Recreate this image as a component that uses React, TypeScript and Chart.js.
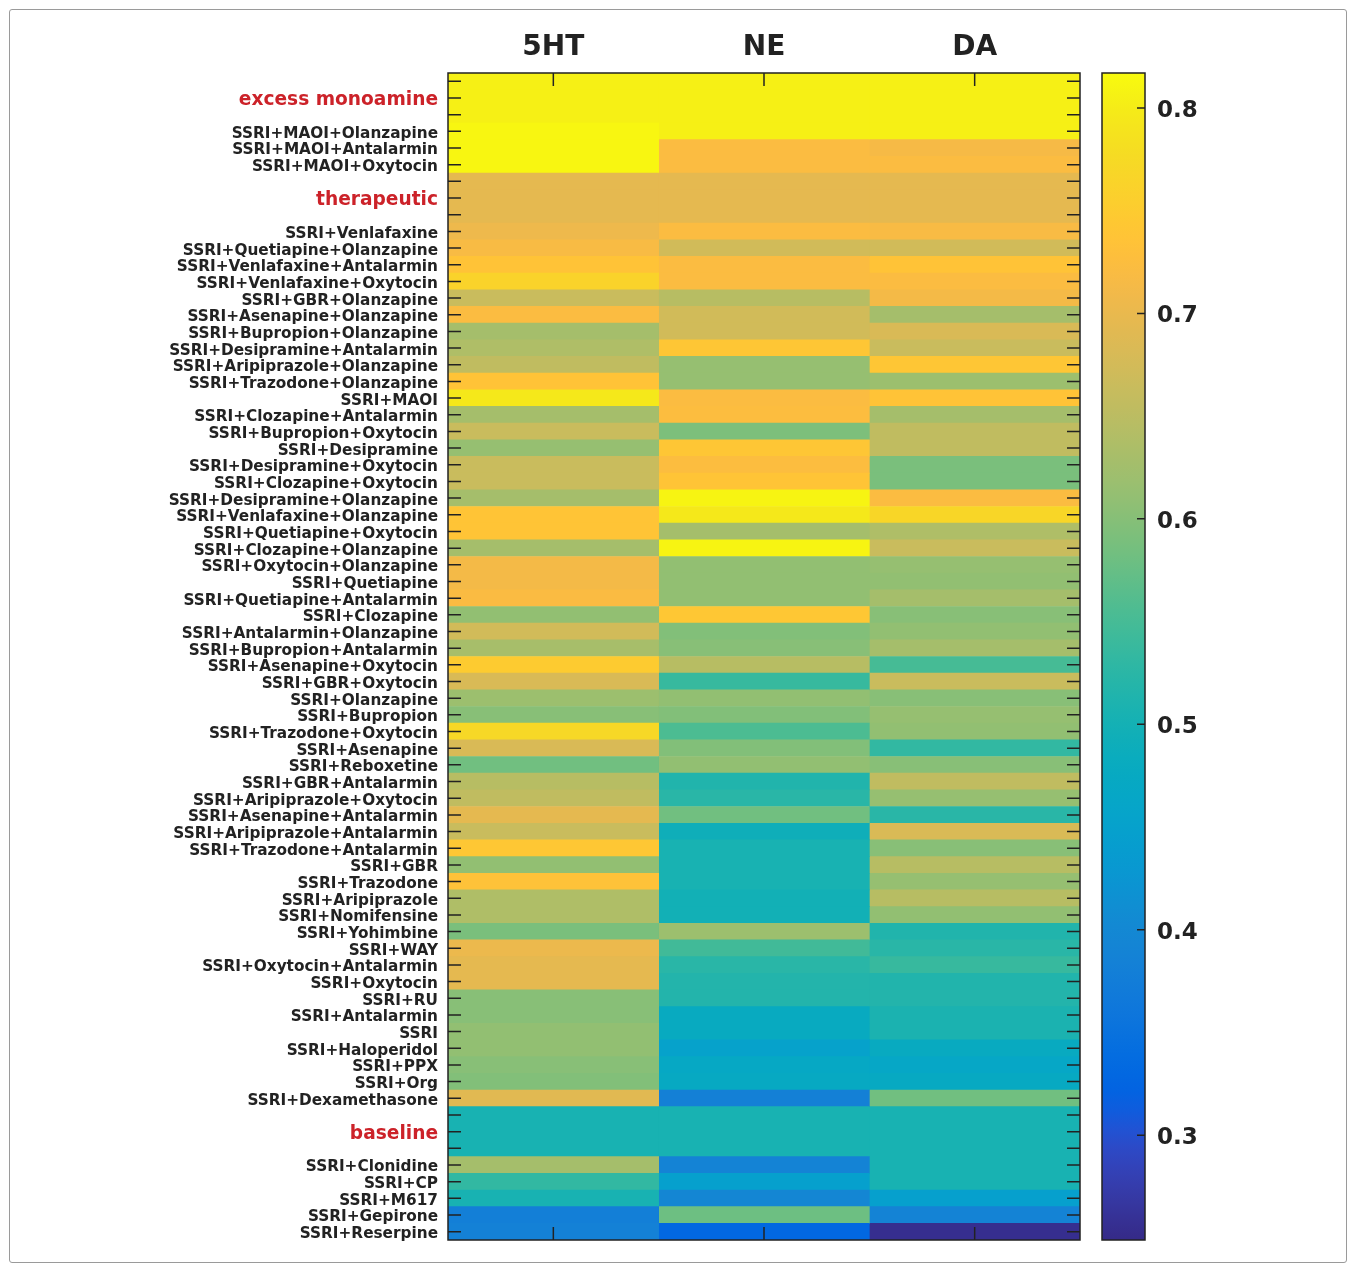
import { useEffect, useRef } from 'react';
import { Chart, registerables } from 'chart.js';

Chart.register(...registerables);

const columns = ['5HT', 'NE', 'DA'];

const groupLabels = ['excess monoamine', 'therapeutic', 'baseline'];

const rowLabels = [
  '', 'excess monoamine', '',
  'SSRI+MAOI+Olanzapine', 'SSRI+MAOI+Antalarmin', 'SSRI+MAOI+Oxytocin',
  '', 'therapeutic', '',
  'SSRI+Venlafaxine', 'SSRI+Quetiapine+Olanzapine', 'SSRI+Venlafaxine+Antalarmin',
  'SSRI+Venlafaxine+Oxytocin', 'SSRI+GBR+Olanzapine', 'SSRI+Asenapine+Olanzapine',
  'SSRI+Bupropion+Olanzapine', 'SSRI+Desipramine+Antalarmin', 'SSRI+Aripiprazole+Olanzapine',
  'SSRI+Trazodone+Olanzapine', 'SSRI+MAOI', 'SSRI+Clozapine+Antalarmin',
  'SSRI+Bupropion+Oxytocin', 'SSRI+Desipramine', 'SSRI+Desipramine+Oxytocin',
  'SSRI+Clozapine+Oxytocin', 'SSRI+Desipramine+Olanzapine', 'SSRI+Venlafaxine+Olanzapine',
  'SSRI+Quetiapine+Oxytocin', 'SSRI+Clozapine+Olanzapine', 'SSRI+Oxytocin+Olanzapine',
  'SSRI+Quetiapine', 'SSRI+Quetiapine+Antalarmin', 'SSRI+Clozapine',
  'SSRI+Antalarmin+Olanzapine', 'SSRI+Bupropion+Antalarmin', 'SSRI+Asenapine+Oxytocin',
  'SSRI+GBR+Oxytocin', 'SSRI+Olanzapine', 'SSRI+Bupropion',
  'SSRI+Trazodone+Oxytocin', 'SSRI+Asenapine', 'SSRI+Reboxetine',
  'SSRI+GBR+Antalarmin', 'SSRI+Aripiprazole+Oxytocin', 'SSRI+Asenapine+Antalarmin',
  'SSRI+Aripiprazole+Antalarmin', 'SSRI+Trazodone+Antalarmin', 'SSRI+GBR',
  'SSRI+Trazodone', 'SSRI+Aripiprazole', 'SSRI+Nomifensine',
  'SSRI+Yohimbine', 'SSRI+WAY', 'SSRI+Oxytocin+Antalarmin',
  'SSRI+Oxytocin', 'SSRI+RU', 'SSRI+Antalarmin',
  'SSRI', 'SSRI+Haloperidol', 'SSRI+PPX',
  'SSRI+Org', 'SSRI+Dexamethasone',
  '', 'baseline', '',
  'SSRI+Clonidine', 'SSRI+CP', 'SSRI+M617', 'SSRI+Gepirone', 'SSRI+Reserpine',
];

const values5HT = [
  0.805, 0.805, 0.805,
  0.812, 0.812, 0.812,
  0.695, 0.695, 0.695,
  0.705, 0.718, 0.736, 0.763, 0.664, 0.722, 0.628, 0.637, 0.655, 0.736,
  0.795, 0.628, 0.664, 0.614, 0.664, 0.664, 0.628, 0.738, 0.738, 0.628,
  0.713, 0.713, 0.72, 0.61, 0.673, 0.63, 0.75, 0.682, 0.619, 0.601,
  0.772, 0.682, 0.583, 0.646, 0.655, 0.695, 0.664, 0.742, 0.61, 0.733,
  0.637, 0.637, 0.59, 0.703, 0.695, 0.695, 0.601, 0.601, 0.61, 0.61,
  0.601, 0.596, 0.691,
  0.505, 0.505, 0.505,
  0.628, 0.532, 0.505, 0.38, 0.385,
];

const valuesNE = [
  0.805, 0.805, 0.805,
  0.805, 0.722, 0.722,
  0.695, 0.695, 0.695,
  0.722, 0.673, 0.722, 0.722, 0.646, 0.673, 0.673, 0.74, 0.614, 0.614,
  0.722, 0.725, 0.592, 0.74, 0.725, 0.738, 0.81, 0.795, 0.628, 0.81,
  0.61, 0.61, 0.61, 0.742, 0.596, 0.601, 0.646, 0.537, 0.61, 0.596,
  0.555, 0.596, 0.61, 0.515, 0.523, 0.583, 0.492, 0.505, 0.505, 0.505,
  0.497, 0.497, 0.619, 0.546, 0.523, 0.517, 0.517, 0.478, 0.478, 0.452,
  0.47, 0.474, 0.384,
  0.505, 0.505, 0.505,
  0.39, 0.447, 0.397, 0.58, 0.33,
];

const valuesDA = [
  0.805, 0.805, 0.805,
  0.805, 0.715, 0.722,
  0.695, 0.695, 0.695,
  0.718, 0.673, 0.736, 0.722, 0.713, 0.628, 0.682, 0.664, 0.74, 0.619,
  0.736, 0.628, 0.655, 0.655, 0.59, 0.59, 0.722, 0.768, 0.637, 0.664,
  0.614, 0.61, 0.628, 0.601, 0.61, 0.628, 0.55, 0.664, 0.601, 0.614,
  0.61, 0.532, 0.601, 0.655, 0.614, 0.523, 0.682, 0.601, 0.646, 0.614,
  0.646, 0.61, 0.515, 0.523, 0.537, 0.515, 0.517, 0.508, 0.508, 0.478,
  0.465, 0.474, 0.583,
  0.505, 0.505, 0.505,
  0.505, 0.505, 0.447, 0.39, 0.255,
];

const colorbarTicks = [0.3, 0.4, 0.5, 0.6, 0.7, 0.8];
const colorMin = 0.249;
const colorMax = 0.817;

// MATLAB parula colormap (64 entries)
const PARULA: number[][] = [
  [0.2081, 0.1663, 0.5292], [0.2116, 0.1898, 0.5777], [0.2123, 0.2138, 0.627], [0.2081, 0.2386, 0.6771],
  [0.1959, 0.2645, 0.7279], [0.1707, 0.2919, 0.7792], [0.1253, 0.3242, 0.8303], [0.0591, 0.3598, 0.8683],
  [0.0117, 0.3875, 0.882], [0.006, 0.4086, 0.8828], [0.0165, 0.4266, 0.8786], [0.0329, 0.443, 0.872],
  [0.0498, 0.4586, 0.8641], [0.0629, 0.4737, 0.8554], [0.0723, 0.4887, 0.8467], [0.0779, 0.504, 0.8384],
  [0.0793, 0.52, 0.8312], [0.0749, 0.5375, 0.8263], [0.0641, 0.557, 0.824], [0.0488, 0.5772, 0.8228],
  [0.0343, 0.5966, 0.8199], [0.0265, 0.6137, 0.8135], [0.0239, 0.6287, 0.8038], [0.0231, 0.6418, 0.7913],
  [0.0228, 0.6535, 0.7768], [0.0267, 0.6642, 0.7607], [0.0384, 0.6743, 0.7436], [0.059, 0.6838, 0.7254],
  [0.0843, 0.6928, 0.7062], [0.1133, 0.7015, 0.6859], [0.1453, 0.7098, 0.6646], [0.1801, 0.7177, 0.6424],
  [0.2178, 0.725, 0.6193], [0.2586, 0.7317, 0.5954], [0.3022, 0.7376, 0.5712], [0.3482, 0.7424, 0.5473],
  [0.3953, 0.7459, 0.5244], [0.442, 0.7481, 0.5033], [0.4871, 0.7491, 0.484], [0.53, 0.7491, 0.4661],
  [0.5709, 0.7485, 0.4494], [0.6099, 0.7473, 0.4337], [0.6473, 0.7456, 0.4188], [0.6834, 0.7435, 0.4044],
  [0.7184, 0.7411, 0.3905], [0.7525, 0.7384, 0.3768], [0.7858, 0.7356, 0.3633], [0.8185, 0.7327, 0.3498],
  [0.8507, 0.7299, 0.336], [0.8824, 0.7274, 0.3217], [0.9139, 0.7258, 0.3063], [0.945, 0.7261, 0.2886],
  [0.9739, 0.7314, 0.2666], [0.9938, 0.7455, 0.2403], [0.999, 0.7653, 0.2164], [0.9955, 0.7861, 0.1967],
  [0.988, 0.8066, 0.1794], [0.9789, 0.8271, 0.1633], [0.9697, 0.8481, 0.1475], [0.9626, 0.8705, 0.1309],
  [0.9589, 0.8949, 0.1132], [0.9598, 0.9218, 0.0948], [0.9661, 0.9514, 0.0755], [0.9763, 0.9831, 0.0538],
];

function parulaAt(t: number): string {
  const tt = Math.max(0, Math.min(1, t)) * (PARULA.length - 1);
  const i = Math.min(PARULA.length - 2, Math.floor(tt));
  const f = tt - i;
  const a = PARULA[i];
  const b = PARULA[i + 1];
  const c = [0, 1, 2].map((k) => Math.round((a[k] + (b[k] - a[k]) * f) * 255));
  return `rgb(${c[0]},${c[1]},${c[2]})`;
}

function colorFor(v: number): string {
  return parulaAt((v - colorMin) / (colorMax - colorMin));
}

const FONT = '"DejaVu Sans", "Liberation Sans", Arial, sans-serif';
const INK = '#222222';
const RED = '#cc2229';

const heatFrame = {
  id: 'heatFrame',
  afterDatasetsDraw(chart: any) {
    const { ctx, chartArea: a, scales } = chart;
    const tl = 13;
    ctx.save();
    ctx.strokeStyle = INK;
    ctx.lineWidth = 1.5;
    ctx.beginPath();
    scales.y.ticks.forEach((_t: any, i: number) => {
      const y = scales.y.getPixelForTick(i);
      ctx.moveTo(a.left, y);
      ctx.lineTo(a.left + tl, y);
      ctx.moveTo(a.right, y);
      ctx.lineTo(a.right - tl, y);
    });
    scales.x.ticks.forEach((_t: any, i: number) => {
      const x = scales.x.getPixelForTick(i);
      ctx.moveTo(x, a.top);
      ctx.lineTo(x, a.top + tl);
      ctx.moveTo(x, a.bottom);
      ctx.lineTo(x, a.bottom - tl);
    });
    ctx.stroke();
    ctx.strokeRect(a.left, a.top, a.right - a.left, a.bottom - a.top);
    ctx.restore();
  },
};

const barFrame = {
  id: 'barFrame',
  afterDatasetsDraw(chart: any) {
    const { ctx, chartArea: a, scales } = chart;
    ctx.save();
    ctx.strokeStyle = INK;
    ctx.lineWidth = 1.5;
    ctx.beginPath();
    scales.y.ticks.forEach((_t: any, i: number) => {
      const y = scales.y.getPixelForTick(i);
      ctx.moveTo(a.right, y);
      ctx.lineTo(a.right - 8, y);
    });
    ctx.stroke();
    ctx.strokeRect(a.left, a.top, a.right - a.left, a.bottom - a.top);
    ctx.restore();
  },
};

export default function App() {
  const heatRef = useRef<HTMLCanvasElement>(null);
  const barRef = useRef<HTMLCanvasElement>(null);

  useEffect(() => {
    const series = [values5HT, valuesNE, valuesDA];
    const heat = new Chart(heatRef.current as HTMLCanvasElement, {
      type: 'bar',
      data: {
        labels: rowLabels,
        datasets: series.map((vals, i) => ({
          label: columns[i],
          data: vals.map(() => 1),
          backgroundColor: vals.map(colorFor),
          borderWidth: 0,
          barPercentage: 1,
          categoryPercentage: 1,
        })),
      },
      options: {
        indexAxis: 'y',
        animation: false,
        responsive: false,
        maintainAspectRatio: false,
        layout: { padding: { left: 0, top: 0, right: 20, bottom: 29 } },
        plugins: { legend: { display: false }, tooltip: { enabled: false } },
        scales: {
          x: {
            type: 'linear',
            position: 'top',
            stacked: true,
            min: 0,
            max: columns.length,
            grid: { display: false, drawTicks: false },
            border: { display: false },
            afterBuildTicks: (scale: any) => {
              scale.ticks = columns.map((_c, i) => ({ value: i + 0.5 }));
            },
            afterFit: (scale: any) => {
              scale.height = 73;
            },
            ticks: {
              padding: 8,
              color: INK,
              font: { family: FONT, size: 28, weight: 'bold' },
              callback: (v: any) => columns[Math.floor(Number(v))],
              maxRotation: 0,
            },
          },
          y: {
            type: 'category',
            stacked: true,
            grid: { display: false, drawTicks: false },
            border: { display: false },
            afterFit: (scale: any) => {
              scale.width = 448;
            },
            ticks: {
              autoSkip: false,
              padding: 10,
              labelOffset: 2.5,
              color: (ctx: any) => (groupLabels.includes(rowLabels[ctx.index]) ? RED : INK),
              font: (ctx: any) =>
                groupLabels.includes(rowLabels[ctx.index])
                  ? { family: FONT, size: 18.6, weight: 'bold' }
                  : { family: FONT, size: 15.3, weight: 'bold' },
            },
          },
        },
      },
      plugins: [heatFrame],
    } as any);

    const bar = new Chart(barRef.current as HTMLCanvasElement, {
      type: 'bar',
      data: {
        labels: [''],
        datasets: [
          {
            data: [[colorMin, colorMax]],
            backgroundColor: (ctx: any) => {
              const area = ctx.chart.chartArea;
              if (!area) return '#ffffff';
              const g = ctx.chart.ctx.createLinearGradient(0, area.bottom, 0, area.top);
              PARULA.forEach((_c, i) => {
                const t = i / (PARULA.length - 1);
                g.addColorStop(t, parulaAt(t));
              });
              return g;
            },
            borderWidth: 0,
            barPercentage: 1,
            categoryPercentage: 1,
          },
        ],
      },
      options: {
        animation: false,
        responsive: false,
        maintainAspectRatio: false,
        layout: { padding: { left: 12, top: 73, right: 0, bottom: 29 } },
        plugins: { legend: { display: false }, tooltip: { enabled: false } },
        scales: {
          x: { display: false },
          y: {
            type: 'linear',
            position: 'right',
            min: colorMin,
            max: colorMax,
            grid: { display: false, drawTicks: false },
            border: { display: false },
            afterBuildTicks: (scale: any) => {
              scale.ticks = colorbarTicks.map((v) => ({ value: v }));
            },
            afterFit: (scale: any) => {
              scale.width = 210;
            },
            ticks: {
              padding: 12,
              labelOffset: 3,
              color: INK,
              font: { family: FONT, size: 23, weight: 'bold' },
              callback: (v: any) => Number(v).toFixed(1),
            },
          },
        },
      },
      plugins: [barFrame],
    } as any);

    return () => {
      heat.destroy();
      bar.destroy();
    };
  }, []);

  return (
    <div style={{ position: 'absolute', left: 0, top: 0, width: 1355, height: 1269, background: '#ffffff' }}>
      <div
        style={{
          position: 'absolute',
          left: 9,
          top: 9,
          width: 1338,
          height: 1254,
          border: '1px solid #9a9a9a',
          borderRadius: 3,
          boxSizing: 'border-box',
        }}
      />
      <canvas
        ref={heatRef}
        width={1100}
        height={1269}
        style={{ position: 'absolute', left: 0, top: 0, width: 1100, height: 1269 }}
      />
      <canvas
        ref={barRef}
        width={265}
        height={1269}
        style={{ position: 'absolute', left: 1090, top: 0, width: 265, height: 1269 }}
      />
    </div>
  );
}
